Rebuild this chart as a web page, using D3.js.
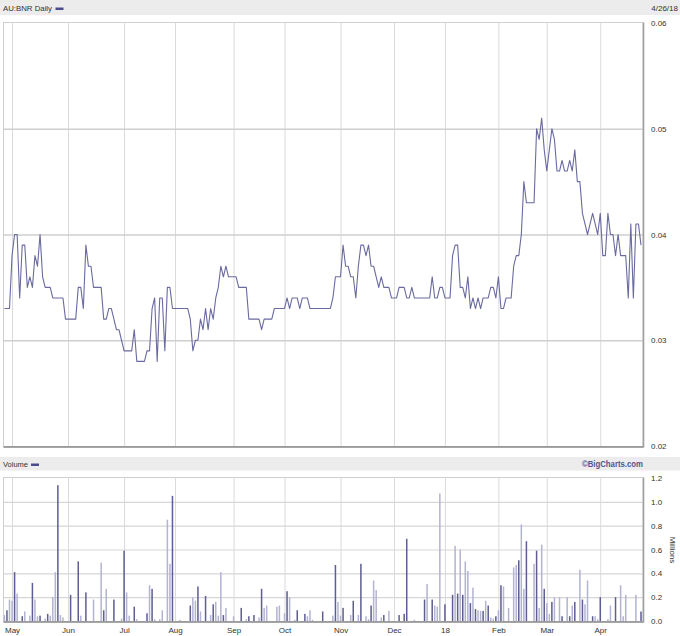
<!DOCTYPE html>
<html><head><meta charset="utf-8">
<script src="https://cdn.jsdelivr.net/npm/d3@7/dist/d3.min.js"></script>
<style>
body{margin:0;background:#fff}
svg{display:block}
text{font-family:"Liberation Sans",Arial,sans-serif;fill:#333}
</style>
</head><body>
<svg id="chart" width="680" height="636"></svg>
<script>
// ---- data (one entry per trading day, 27 Apr 2017 .. 26 Apr 2018) ----
// closing price in thousandths of a dollar
const priceMils = [33,
33,33,38,40,40,34,39,39,35,36,
35,38,37,40,36,35,35,35,34,34,
34,34,34,32,32,32,32,32,35,35,
33,39,37,37,35,35,35,35,32,32,
33,33,32,31,31,30,29,29,29,29,
31,28,28,28,28,29,29,33,34,28,
34,34,29,35,35,33,33,33,33,33,
33,33,32,29,30,30,32,31,33,31,
33,32,34,35,37,36,37,36,36,36,
36,35,35,35,35,32,32,32,32,32,
31,32,32,32,32,33,33,33,33,33,
34,33,34,34,34,33,34,34,34,33,
33,33,33,33,33,33,33,33,34,36,
36,36,39,37,37,36,36,34,37,39,
39,38,39,37,37,36,35,36,35,35,
35,34,34,34,35,35,35,34,34,35,
34,34,34,34,34,34,34,36,34,34,
35,35,34,34,34,38,39,39,35,35,
34,36,33,34,33,34,33,34,34,34,
35,35,34,36,33,33,34,34,34,37,
38,38,40,45,43,43,43,43,50,49,
51,48,46,48,50,49,46,46,47,46,
46,47,46,48,45,45,42,41,40,41,
42,41,40,42,38,38,42,40,40,38,
40,38,38,38,34,41,34,41,41,39];

// daily volume in millions
const volumeM = [
.05,.09,.18,.17,.41,.23,0,.04,.08,0,
.045,.32,.18,.04,.045,0,.02,.06,.045,.2,
.41,1.14,.05,.03,0,0,.22,0,0,.5,
.045,0,.24,0,0,.18,0,0,.49,.09,
.27,0,0,.18,0,0,.02,.59,.24,.045,
0,.12,.015,0,0,0,.065,.3,.27,.015,
0,.015,.09,0,.85,.48,1.05,0,0,.01,
0,0,0,.13,.2,.17,.29,.08,0,.21,
0,.05,.14,.16,.045,.41,.05,.11,0,0,
.04,0,0,.11,0,.015,.04,0,.05,0,
.03,.27,.11,.13,0,0,0,.12,.13,0,
.065,.25,.2,0,.01,.09,0,0,.06,.04,
.09,.01,0,0,0,.08,0,0,0,.045,
.47,.16,.045,.11,0,0,.05,.17,0,.05,
.48,0,.04,.015,.13,.34,.26,0,.03,.05,
0,.085,0,0,0,.05,0,.06,.69,0,
0,.01,0,0,0,.18,.31,0,.18,.13,
.12,1.07,0,.14,0,0,.22,.63,.23,.6,
.22,.5,.42,.15,.28,.1,.09,.085,.085,.17,
.13,.03,.02,.04,.09,.3,.29,0,.11,0,
.45,.47,.51,.81,.27,.67,0,0,.48,.59,
.11,.64,.27,.15,.06,.16,.2,0,.2,.04,
0,.2,.04,.13,.16,0,.43,.18,.14,.34,
0,.04,.04,.015,.2,0,0,.015,.13,0,
.2,0,.3,.04,.22,0,0,0,.22,0,
.08];

// bar shade per day: d = dark, l = light
const volumeShade = (
"ldlldlldll"+"ldlldlldll"+"ldlllldlld"+"lldlllllld"+"llldllldll"+
"ldlllldldl"+"lllllldlll"+"llldlldlld"+"lldllldlll"+"llldlldldl"+
"ldllllllll"+"ldllldlldl"+"llllldllll"+"dlldllldll"+"dllldlllld"+
"llllldlddl"+"llllldlldl"+"llldlldldl"+"dlldldlldl"+"dlldldllll"+
"lldlldllld"+"lldlldllld"+"lldldlldll"+"ldlldlllll"+"dlllllllll"+"d").split("");

// month axis: index of first trading day of each month, and its label
const monthIndex  = [3,25,47,67,90,110,132,153,173,194,213,234];
const monthLabels = ["May","Jun","Jul","Aug","Sep","Oct","Nov","Dec","18","Feb","Mar","Apr"];

const priceTicks  = [0.02,0.03,0.04,0.05,0.06];
const volumeTicks = [0.0,0.2,0.4,0.6,0.8,1.0,1.2];

const title = "AU:BNR Daily";
const dateLabel = "4/26/18";

// ---- layout ----
const svg = d3.select("#chart");
const L = 3.5, R = 643;
const pTop = 22.5, pBot = 446.5;
const vTop = 477.5, vBot = 621.5;

const N = priceMils.length;
const x = d3.scaleLinear().domain([0, N-1]).range([4.4, 641]);
const yP = d3.scaleLinear().domain([0.02, 0.06]).range([446, 23]);
const yV = d3.scaleLinear().domain([0, 1.2]).range([621, 478]);

// header bands
svg.append("rect").attr("x",0).attr("y",0).attr("width",680).attr("height",15).attr("fill","#ececec");
svg.append("rect").attr("x",0).attr("y",457).attr("width",680).attr("height",13.5).attr("fill","#ececec");

svg.append("text").attr("x",3).attr("y",11).attr("font-size",8)
  .attr("textLength",49).attr("lengthAdjust","spacingAndGlyphs").text(title);
svg.append("rect").attr("x",55.5).attr("y",7.5).attr("width",8).attr("height",2.5).attr("fill","#4a4a8c");
svg.append("text").attr("x",678).attr("y",11).attr("font-size",8).attr("text-anchor","end").text(dateLabel);

svg.append("text").attr("x",3).attr("y",467).attr("font-size",8)
  .attr("textLength",25).attr("lengthAdjust","spacingAndGlyphs").text("Volume");
svg.append("rect").attr("x",31).attr("y",463.5).attr("width",8).attr("height",2.5).attr("fill","#4a4a8c");
svg.append("text").attr("x",643).attr("y",467).attr("font-size",8.2).attr("font-weight","bold")
  .attr("text-anchor","end").style("fill","#52528f").attr("textLength",61).attr("lengthAdjust","spacingAndGlyphs")
  .text("\u00A9BigCharts.com");

function panel(top, bot){
  const g = svg.append("g");
  g.append("rect").attr("x",L).attr("y",top).attr("width",R-L).attr("height",bot-top)
    .attr("fill","#fff").attr("stroke","#cfcfcf").attr("stroke-width",1);
  return g;
}
const gp = panel(pTop, pBot);
const gv = panel(vTop, vBot);

// vertical month gridlines
[ [gp,pTop,pBot], [gv,vTop,vBot] ].forEach(([g,t,b])=>{
  g.append("g").attr("transform",`translate(0,${b})`)
   .call(d3.axisBottom(x).tickValues(monthIndex).tickSize(-(b-t)).tickFormat(""))
   .call(s=>{s.select(".domain").remove(); s.selectAll("line").attr("stroke","#dadada").attr("stroke-width",1);});
});

// horizontal gridlines
gp.append("g").attr("transform",`translate(${L},0)`)
  .call(d3.axisRight(yP).tickValues([0.03,0.04,0.05]).tickSize(R-L).tickFormat(""))
  .call(s=>{s.select(".domain").remove(); s.selectAll("line").attr("stroke","#cfcfcf").attr("stroke-width",1.3);});
gv.append("g").attr("transform",`translate(${L},0)`)
  .call(d3.axisRight(yV).tickValues([0.2,0.4,0.6,0.8,1.0]).tickSize(R-L).tickFormat(""))
  .call(s=>{s.select(".domain").remove(); s.selectAll("line").attr("stroke","#d6d6d6").attr("stroke-width",1.2);});

// price line
const line = d3.line().x((d,i)=>x(i)).y(d=>yP(d/1000));
gp.append("path").datum(priceMils).attr("d",line).attr("fill","none")
  .attr("stroke","#6a6aa0").attr("stroke-width",1.1).attr("stroke-linejoin","round");

// volume bars
gv.selectAll("rect.bar").data(volumeM.map((v,i)=>({v,i,s:volumeShade[i]})).filter(d=>d.v>0))
  .enter().append("rect").attr("class","bar")
  .attr("x",d=>x(d.i)-0.75).attr("width",1.5)
  .attr("y",d=>yV(d.v)).attr("height",d=>yV(0)-yV(d.v))
  .attr("fill",d=>d.s==="d"?"#5e5e92":"#b3b3d3");

// darker right / bottom frame edges
[[pTop,pBot],[vTop,vBot]].forEach(([t,b])=>{
  svg.append("line").attr("x1",L).attr("x2",R+0.5).attr("y1",b+0.5).attr("y2",b+0.5).attr("stroke","#8a8a8a").attr("stroke-width",1.6);
  svg.append("line").attr("x1",R+0.5).attr("x2",R+0.5).attr("y1",t).attr("y2",b+1).attr("stroke","#a0a0a0").attr("stroke-width",1.6);
});

// y axes labels
svg.append("g").attr("transform",`translate(651,0)`)
  .call(d3.axisRight(yP).tickValues(priceTicks).tickSize(0).tickPadding(0).tickFormat(d3.format(".2f")))
  .call(s=>{s.select(".domain").remove(); s.selectAll("text").attr("font-size",8).style("fill","#333").attr("font-family","Liberation Sans, Arial, sans-serif");});
svg.append("g").attr("transform",`translate(651,0)`)
  .call(d3.axisRight(yV).tickValues(volumeTicks).tickSize(0).tickPadding(0).tickFormat(d3.format(".1f")))
  .call(s=>{s.select(".domain").remove(); s.selectAll("text").attr("font-size",8).style("fill","#333").attr("font-family","Liberation Sans, Arial, sans-serif");});

svg.append("text").attr("transform","translate(670,550) rotate(90)").attr("text-anchor","middle")
  .attr("font-size",8).text("Millions");

// x axis labels
svg.append("g").attr("transform",`translate(0,${vBot+3})`)
  .call(d3.axisBottom(x).tickValues(monthIndex).tickSize(0).tickPadding(3).tickFormat((d,i)=>monthLabels[i]))
  .call(s=>{s.select(".domain").remove(); s.selectAll("text").attr("font-size",8).style("fill","#333").attr("font-family","Liberation Sans, Arial, sans-serif");});
</script>
</body></html>
